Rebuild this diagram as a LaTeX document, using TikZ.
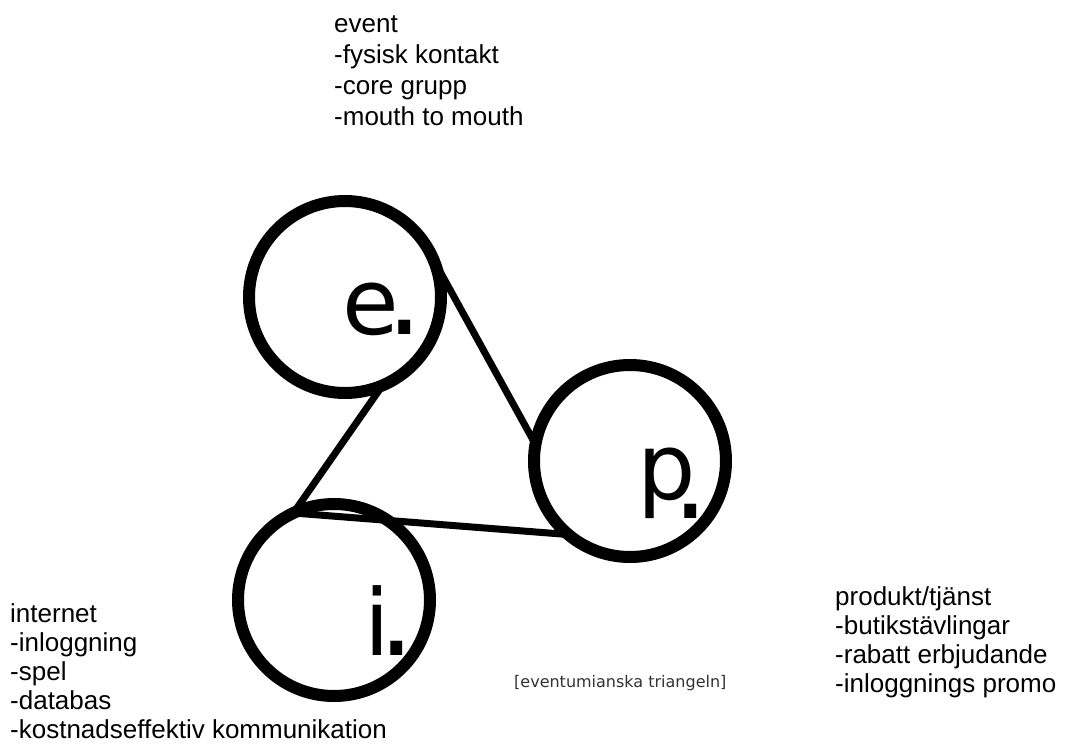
\documentclass[tikz,border=0pt]{standalone}
\usepackage{fontspec}
\setmainfont{Liberation Sans}
\newfontfamily\dejavu{DejaVu Sans}
\newcommand{\bigdot}{{\fontsize{115}{115}\selectfont .}}
\begin{document}
\begin{tikzpicture}[x=1pt,y=-1pt,
  ring/.style={circle, draw=black, line width=12pt, minimum size=192pt, inner sep=0pt, outer sep=0pt},
  link/.style={draw=black, line width=7pt, line cap=round},
  txt/.style={align=left, inner sep=0pt, anchor=base west},
  glyph/.style={font=\dejavu\fontsize{92}{92}\selectfont, inner sep=0pt, anchor=base west},
  caption/.style={font=\dejavu\fontsize{16}{18}\selectfont, text=black!80, inner sep=0pt, anchor=base west}]
\useasboundingbox (0,0) rectangle (1069,745);
\fill[white] (0,0) rectangle (1069,745);
% circles
\node[ring] (e) at (345,297) {};
\node[ring] (p) at (630,461) {};
\node[ring] (i) at (334,600) {};
% connectors
\draw[link] (e.23) -- (p.170);
\draw[link] (e.-67) -- (i.115);
\draw[link] (i.115) -- (p.230);
% letters
\node[glyph] (elab) at (342,334) {e\kern-12pt\bigdot};
\node[glyph] (plab) at (637,499) {p\kern-23.5pt\raisebox{-19pt}{\bigdot}};
\node[glyph] (ilab) at (364,655) {i\kern-11pt\bigdot};
% texts (anchored at last baseline)
\node[txt, font=\fontsize{26}{31}\selectfont] (event) at (334,125) {event\\-fysisk kontakt\\-core grupp\\-mouth to mouth};
\node[txt, font=\fontsize{26}{29}\selectfont] (internet) at (10,738) {internet\\-inloggning\\-spel\\-databas\\-kostnadseffektiv kommunikation};
\node[txt, font=\fontsize{26}{29}\selectfont] (produkt) at (835,692) {produkt/tjänst\\-butikstävlingar\\-rabatt erbjudande\\-inloggnings promo};
\node[caption] (cap) at (514,687) {[eventumianska triangeln]};
\end{tikzpicture}
\end{document}
